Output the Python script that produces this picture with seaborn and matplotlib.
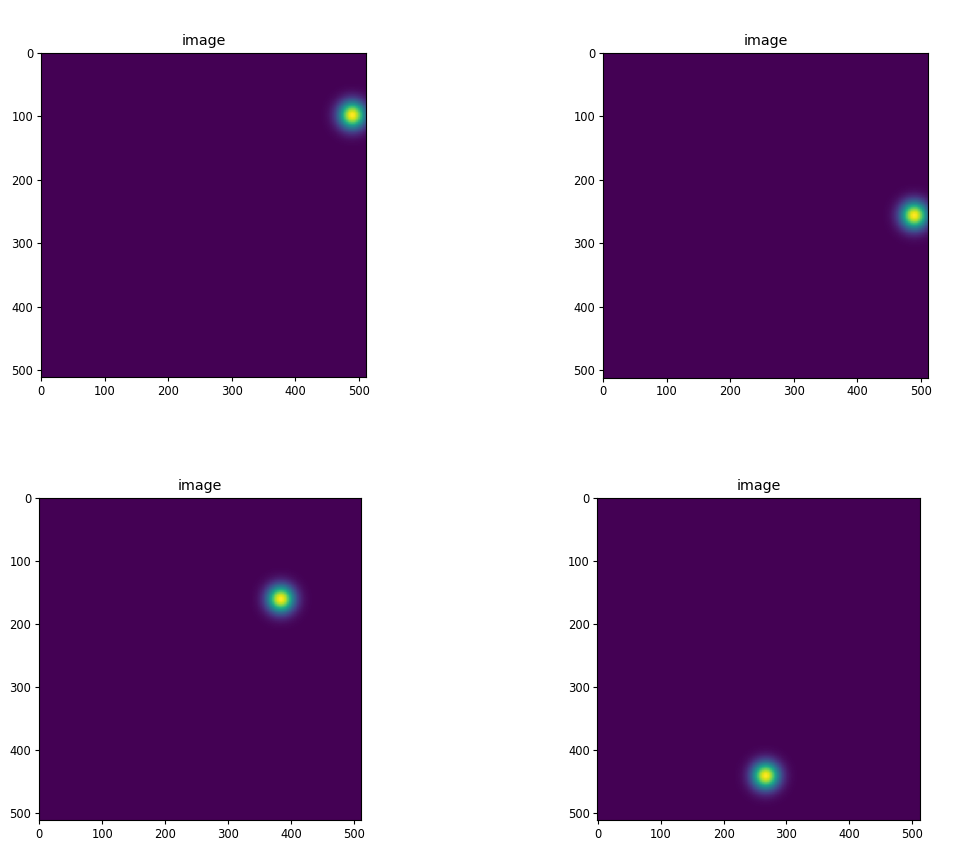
import numpy as np
import pandas as pd
import matplotlib
matplotlib.use("Agg")
import matplotlib.pyplot as plt
import seaborn as sns

# Data
titles = ["image", "image", "image", "image"]
center_x = [490, 490, 384, 267]
center_y = [98, 256, 160, 441]
sigma = [15, 15, 15, 15]
image_size = 512
tick_values = [0, 100, 200, 300, 400, 500]

sns.set_style("ticks")
plt.rcParams["font.family"] = ["DejaVu Sans"]
plt.rcParams["text.color"] = "black"
plt.rcParams["axes.labelcolor"] = "black"

W, H = 960, 861
fig = plt.figure(figsize=(W / 100, H / 100), dpi=100)

# axes boxes in pixels: left, top, right, bottom
boxes = [(41, 52, 366, 378), (603, 52, 928, 378),
         (39, 498, 361, 820), (597, 498, 920, 820)]

coords = np.arange(image_size)
xx, yy = np.meshgrid(coords, coords)

for i in range(4):
    l, t, r, b = boxes[i]
    ax = fig.add_axes([l / W, 1 - b / H, (r - l) / W, (b - t) / H])
    img = np.exp(-((xx - center_x[i]) ** 2 + (yy - center_y[i]) ** 2) / (2 * sigma[i] ** 2))
    df = pd.DataFrame(img)
    sns.heatmap(df, ax=ax, cmap="viridis", cbar=False, xticklabels=False,
                yticklabels=False, rasterized=True)
    ax.set_aspect("equal")
    for s in ax.spines.values():
        s.set_visible(True)
        s.set_color("black")
        s.set_linewidth(0.8)
    pos = [v + 0.5 for v in tick_values]
    ax.set_xticks(pos)
    ax.set_xticklabels([str(v) for v in tick_values])
    ax.set_yticks(pos)
    ax.set_yticklabels([str(v) for v in tick_values], rotation=0)
    ax.tick_params(axis="both", labelsize=8.3, length=3, width=0.8,
                   color="black", labelcolor="black", pad=2.5,
                   bottom=True, left=True)
    ax.set_xlabel("")
    ax.set_ylabel("")
    ax.set_title(titles[i], fontsize=10.3, pad=5.5, color="black")

fig.savefig("out.png", dpi=100, facecolor="white")
